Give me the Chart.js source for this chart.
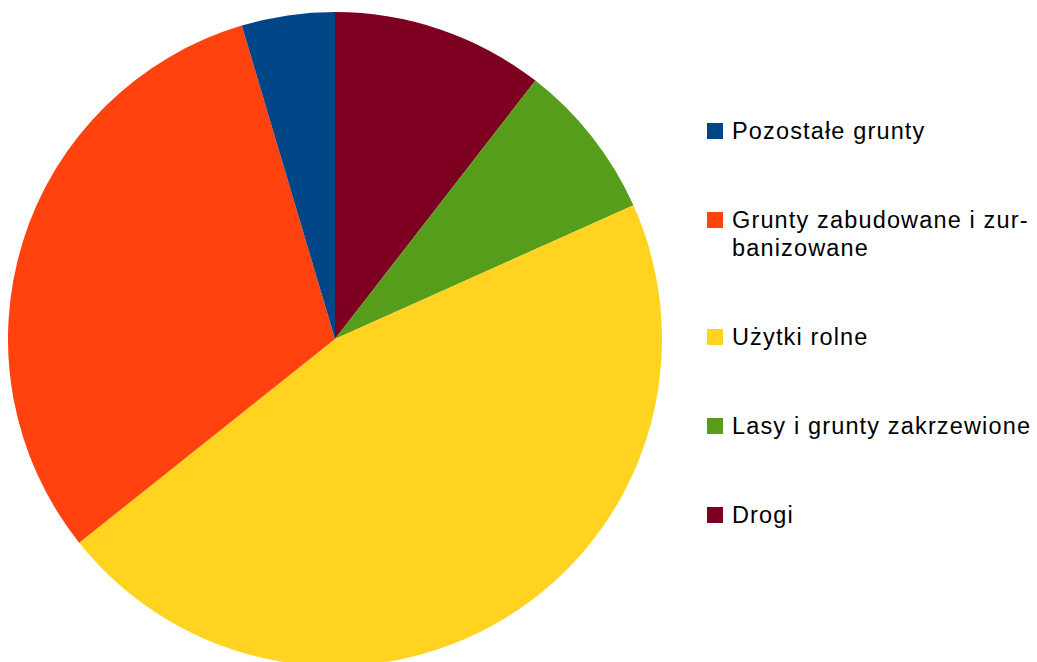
<!DOCTYPE html>
<html>
<head>
<meta charset="utf-8">
<script src="https://cdn.jsdelivr.net/npm/chart.js@4"></script>
<style>
    html, body { margin: 0; padding: 0; background: #fff; overflow: hidden; width: 1037px; height: 662px; }
    #pie_box { position: absolute; left: 8px; top: 12px; width: 654px; height: 654px; }
    #legend { position: absolute; left: 707px; top: 117px; width: 330px; font-family: 'Liberation Sans', Arial, sans-serif; font-size: 23.5px; letter-spacing: 1.15px; color: #000; }
    .legend_item { display: flex; align-items: flex-start; line-height: 28px; margin-bottom: 61px; }
    .legend_box { width: 16px; height: 16px; margin-top: 6px; margin-right: 9px; flex: none; }
    .legend_text { width: 305px; }
</style>
</head>
<body>
<div id="pie_box"><canvas id="pie"></canvas></div>
<div id="legend"></div>
<script>
// clockwise from 12 o'clock
const categories = ['Drogi', 'Lasy i grunty zakrzewione', 'Użytki rolne', 'Grunty zabudowane i zur\u00ADbanizowane', 'Pozostałe grunty'];
const shares = [10.5, 7.8, 46.0, 31.1, 4.6];
const colors = ['#7e0021', '#579d1c', '#ffd320', '#ff420e', '#004586'];

const pieCtx = document.getElementById('pie').getContext('2d');

new Chart(pieCtx, {
    type: 'pie',
    data: {
        labels: categories,
        datasets: [
            {
                data: shares,
                backgroundColor: colors,
                borderWidth: 0
            }
        ]
    },
    options: {
        responsive: true,
        maintainAspectRatio: false,
        animation: false,
        layout: { padding: 0 },
        plugins: {
            legend: { display: false },
            tooltip: { enabled: false }
        }
    }
});

// legend goes bottom-up, same as the original
const legend = document.getElementById('legend');
for (let i = categories.length - 1; i >= 0; i--) {
    const item = document.createElement('div');
    item.className = 'legend_item';
    const box = document.createElement('span');
    box.className = 'legend_box';
    box.style.background = colors[i];
    const text = document.createElement('span');
    text.className = 'legend_text';
    text.textContent = categories[i];
    item.appendChild(box);
    item.appendChild(text);
    legend.appendChild(item);
}
</script>
</body>
</html>
